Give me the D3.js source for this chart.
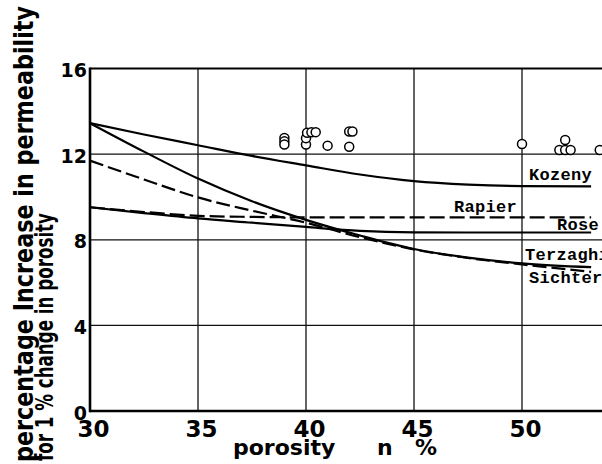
<!DOCTYPE html>
<html>
<head>
<meta charset="utf-8">
<script src="https://cdnjs.cloudflare.com/ajax/libs/d3/7.8.5/d3.min.js"></script>
<style>
  body { margin: 0; background: #fff; }
  svg { display: block; }
</style>
</head>
<body>
<script>

// values
var porosity = [30, 32.5, 35, 37.5, 40, 42.5, 45, 47.5, 50, 53.2];
var kozeny   = [13.45, 12.92, 12.42, 11.92, 11.48, 11.05, 10.74, 10.58, 10.51, 10.5];
var terzaghi = [13.45, 12.12, 10.86, 9.8, 8.93, 8.2, 7.57, 7.17, 6.9, 6.72];
var sichter  = [11.7, 10.82, 9.98, 9.36, 8.8, 8.12, 7.55, 7.15, 6.85, 6.5];
var rapier   = [9.52, 9.3, 9.12, 9.07, 9.05, 9.05, 9.05, 9.05, 9.05, 9.05];
var rose     = [9.52, 9.25, 9.0, 8.8, 8.6, 8.42, 8.35, 8.34, 8.34, 8.34];

// measured points (open circles)
var pointsN = [39.0, 39.0, 39.0, 40.0, 40.0, 40.05, 40.25, 40.45, 41.0, 42.0, 42.15, 42.0, 50.0, 52.0, 51.73, 52.0, 52.25, 53.6];
var pointsV = [12.76, 12.6, 12.45, 12.45, 12.75, 13.0, 13.02, 13.03, 12.4, 13.06, 13.06, 12.35, 12.48, 12.66, 12.2, 12.2, 12.2, 12.2];

var xTicks = [30, 35, 40, 45, 50];
var yTicks = [0, 4, 8, 12, 16];
var xGrid = [35, 40, 45, 50, 55];
var yGrid = [4, 8, 12];

var W = 602, H = 464;

var svg = d3.select("body").append("svg")
            .attr("width", W)
            .attr("height", H);

var x = d3.scaleLinear().domain([30, 55]).range([90, 630]);
var y = d3.scaleLinear().domain([0, 16]).range([411, 68.6]);

// grid
svg.selectAll(".vgrid")
   .data(xGrid)
   .enter()
   .append("line")
   .attr("x1", function(d) { return x(d); })
   .attr("x2", function(d) { return x(d); })
   .attr("y1", y(16))
   .attr("y2", y(0))
   .style("stroke", "#111")
   .style("stroke-width", 1.3);

svg.selectAll(".hgrid")
   .data(yGrid)
   .enter()
   .append("line")
   .attr("x1", x(30))
   .attr("x2", W)
   .attr("y1", function(d) { return y(d); })
   .attr("y2", function(d) { return y(d); })
   .style("stroke", "#111")
   .style("stroke-width", 1.3);

// frame
svg.append("line").attr("x1", x(30)).attr("x2", W).attr("y1", y(16)).attr("y2", y(16))
   .style("stroke", "#000").style("stroke-width", 2);
svg.append("line").attr("x1", x(30)).attr("x2", W).attr("y1", y(0)).attr("y2", y(0))
   .style("stroke", "#000").style("stroke-width", 2.6);
svg.append("line").attr("x1", x(30)).attr("x2", x(30)).attr("y1", y(16) - 1).attr("y2", y(0) + 1.3)
   .style("stroke", "#000").style("stroke-width", 2.6);

// curves
var line = d3.line()
             .x(function(d) { return x(d[0]); })
             .y(function(d) { return y(d[1]); })
             .curve(d3.curveMonotoneX);

var curves = [
  { vals: kozeny,   dash: null },
  { vals: terzaghi, dash: null },
  { vals: sichter,  dash: "14,5" },
  { vals: rapier,   dash: "15,5" },
  { vals: rose,     dash: null }
];

svg.selectAll(".curve")
   .data(curves)
   .enter()
   .append("path")
   .attr("d", function(c) { return line(d3.zip(porosity, c.vals)); })
   .style("fill", "none")
   .style("stroke", "#000")
   .style("stroke-width", 2.2)
   .style("stroke-dasharray", function(c) { return c.dash; });

// open circles
svg.selectAll(".pt")
   .data(d3.zip(pointsN, pointsV))
   .enter()
   .append("circle")
   .attr("cx", function(d) { return x(d[0]); })
   .attr("cy", function(d) { return y(d[1]); })
   .attr("r", 4.5)
   .style("fill", "#fff")
   .style("stroke", "#000")
   .style("stroke-width", 1.5);

// curve names, typewriter style
var names = [
  ["Kozeny", 529, 180],
  ["Rapier", 454, 212],
  ["Rose", 557, 230],
  ["Terzaghi", 525, 260],
  ["Sichter", 529, 283]
];
svg.selectAll(".name")
   .data(names)
   .enter()
   .append("text")
   .attr("x", function(d) { return d[1]; })
   .attr("y", function(d) { return d[2]; })
   .text(function(d) { return d[0]; })
   .style("font-family", "'Liberation Mono', 'DejaVu Sans Mono', monospace")
   .style("font-size", "17px")
   .style("font-weight", "bold")
   .style("letter-spacing", "0.3px")
   .style("fill", "#000");

// axes (labels only)
var xAxis = svg.append("g")
               .attr("transform", "translate(3," + y(0) + ")")
               .call(d3.axisBottom(x).tickValues(xTicks).tickSize(0).tickPadding(10));
xAxis.select(".domain").remove();
xAxis.selectAll("text")
     .style("font-family", "'DejaVu Sans', sans-serif")
     .style("font-weight", "bold")
     .style("font-size", "23px")
     .style("fill", "#000");

var yAxis = svg.append("g")
               .attr("transform", "translate(" + x(30) + ",2)")
               .call(d3.axisLeft(y).tickValues(yTicks).tickSize(0).tickPadding(3));
yAxis.select(".domain").remove();
yAxis.selectAll("text")
     .style("font-family", "'DejaVu Sans', sans-serif")
     .style("font-weight", "bold")
     .style("font-size", "19px")
     .style("fill", "#000");

// axis titles
var bold = "'DejaVu Sans', sans-serif";
svg.append("text")
   .attr("transform", "translate(33,462) rotate(-90)")
   .attr("textLength", 456)
   .attr("lengthAdjust", "spacingAndGlyphs")
   .text("percentage Increase in permeability")
   .style("font-family", bold).style("font-weight", "bold").style("font-size", "27px");

svg.append("text")
   .attr("transform", "translate(53,461) rotate(-90)")
   .attr("textLength", 248)
   .attr("lengthAdjust", "spacingAndGlyphs")
   .text("for 1 % change in porosity")
   .style("font-family", bold).style("font-weight", "bold").style("font-size", "24px");

var xt = svg.append("text")
            .attr("y", 455)
            .style("font-family", bold).style("font-weight", "bold").style("font-size", "22px");
xt.append("tspan").attr("x", 233).text("porosity");
xt.append("tspan").attr("x", 377).text("n");
xt.append("tspan").attr("x", 415).text("%");

</script>
</body>
</html>
